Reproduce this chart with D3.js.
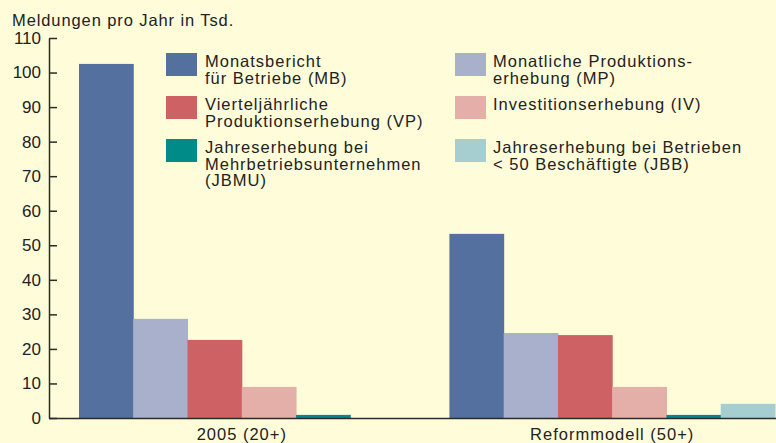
<!DOCTYPE html>
<html>
<head>
	<meta charset="utf-8">
	<script src="https://cdn.jsdelivr.net/npm/d3@7"></script>
	<style>
		body { margin: 0; background: #fffcd9; }
		svg { display: block; font-family: "Liberation Sans", Arial, sans-serif; }
		text { fill: #222; }
		.axis path, .axis line { stroke: #2b2b2b; stroke-width: 1.5; }
		.axis text { font-size: 17px; fill: #222; }
		.xaxis text { font-size: 16.5px; letter-spacing: 1px; }
		.legend text { font-size: 16.5px; letter-spacing: 1px; }
	</style>
</head>
<body>
	<svg></svg>
	<script>
		var width = 776;
		var height = 443;

		var groups = ["2005 (20+)", "Reformmodell (50+)"];
		var seriesKeys = ["MB", "MP", "VP", "IV", "JBMU", "JBB"];
		var valuesMB = [102.5, 53.3];
		var valuesMP = [28.7, 24.6];
		var valuesVP = [22.6, 24.0];
		var valuesIV = [9.0, 9.0];
		var valuesJBMU = [0.9, 0.9];
		var valuesJBB = [0, 4.1];
		var yTicks = [0, 10, 20, 30, 40, 50, 60, 70, 80, 90, 100, 110];

		var colors = {
			MB: "#53709e",
			MP: "#a8b0cb",
			VP: "#cd6164",
			IV: "#e4afa8",
			JBMU: "#008a88",
			JBB: "#a6cdcf"
		};

		// legend: two columns, MB/VP/JBMU left, MP/IV/JBB right
		var legendLeft = [
			{ key: "MB", lines: ["Monatsbericht", "für Betriebe (MB)"] },
			{ key: "VP", lines: ["Vierteljährliche", "Produktionserhebung (VP)"] },
			{ key: "JBMU", lines: ["Jahreserhebung bei", "Mehrbetriebsunternehmen", "(JBMU)"] }
		];
		var legendRight = [
			{ key: "MP", lines: ["Monatliche Produktions-", "erhebung (MP)"] },
			{ key: "IV", lines: ["Investitionserhebung (IV)"] },
			{ key: "JBB", lines: ["Jahreserhebung bei Betrieben", "< 50 Beschäftigte (JBB)"] }
		];

		var seriesValues = {
			MB: valuesMB, MP: valuesMP, VP: valuesVP,
			IV: valuesIV, JBMU: valuesJBMU, JBB: valuesJBB
		};

		var margins = { left: 49, top: 38, bottom: 25 };
		var baseY = height - margins.bottom;

		var svg = d3.select("svg")
			.attr("width", width)
			.attr("height", height);

		svg.append("rect")
			.attr("width", width)
			.attr("height", height)
			.attr("fill", "#fffcd9");

		var y = d3.scaleLinear()
			.domain([0, 110])
			.range([baseY, margins.top]);

		// outer band runs past the right edge, the picture is cropped there
		var x0 = d3.scaleBand()
			.domain(groups)
			.range([margins.left, 805])
			.paddingInner(0.121)
			.paddingOuter(0.081);

		var x1 = d3.scaleBand()
			.domain(seriesKeys)
			.range([0, x0.bandwidth()]);

		var gGroups = svg.selectAll(".group")
			.data(groups)
			.enter()
			.append("g")
			.attr("class", "group")
			.attr("transform", d => "translate(" + x0(d) + ",0)");

		gGroups.selectAll("rect")
			.data((g, i) => seriesKeys.map(k => ({ key: k, value: seriesValues[k][i] })))
			.enter()
			.append("rect")
			.attr("x", d => x1(d.key))
			.attr("width", x1.bandwidth() + 0.5)
			.attr("y", d => y(d.value))
			.attr("height", d => y(0) - y(d.value))
			.attr("fill", d => colors[d.key]);

		// y axis, ticks pointing inward
		svg.append("g")
			.attr("class", "axis")
			.attr("transform", "translate(" + margins.left + ",0)")
			.call(d3.axisLeft(y)
				.tickValues(yTicks)
				.tickSizeInner(-8)
				.tickSizeOuter(0)
				.tickPadding(8));

		// baseline
		svg.append("line")
			.attr("x1", margins.left)
			.attr("x2", width)
			.attr("y1", y(0) + 0.5)
			.attr("y2", y(0) + 0.5)
			.attr("stroke", "#2b2b2b")
			.attr("stroke-width", 1.5);

		svg.append("g")
			.attr("class", "axis xaxis")
			.attr("transform", "translate(0," + baseY + ")")
			.call(d3.axisBottom(x0).tickSize(0).tickPadding(10))
			.call(g => g.select(".domain").remove());

		svg.append("text")
			.attr("x", 12)
			.attr("y", 26)
			.attr("font-size", 16.5)
			.attr("letter-spacing", 0.9)
			.text("Meldungen pro Jahr in Tsd.");

		var legend = svg.append("g").attr("class", "legend");

		function drawLegend(items, sx, tx) {
			items.forEach(function (item, i) {
				var top = 53 + i * 43;
				legend.append("rect")
					.attr("x", sx)
					.attr("y", top)
					.attr("width", 31)
					.attr("height", 23)
					.attr("fill", colors[item.key]);
				var t = legend.append("text")
					.attr("x", tx)
					.attr("y", top + 14);
				item.lines.forEach(function (line, j) {
					t.append("tspan")
						.attr("x", tx)
						.attr("dy", j === 0 ? 0 : 16.6)
						.text(line);
				});
			});
		}

		drawLegend(legendLeft, 166, 205);
		drawLegend(legendRight, 455, 493);
	</script>
</body>
</html>
